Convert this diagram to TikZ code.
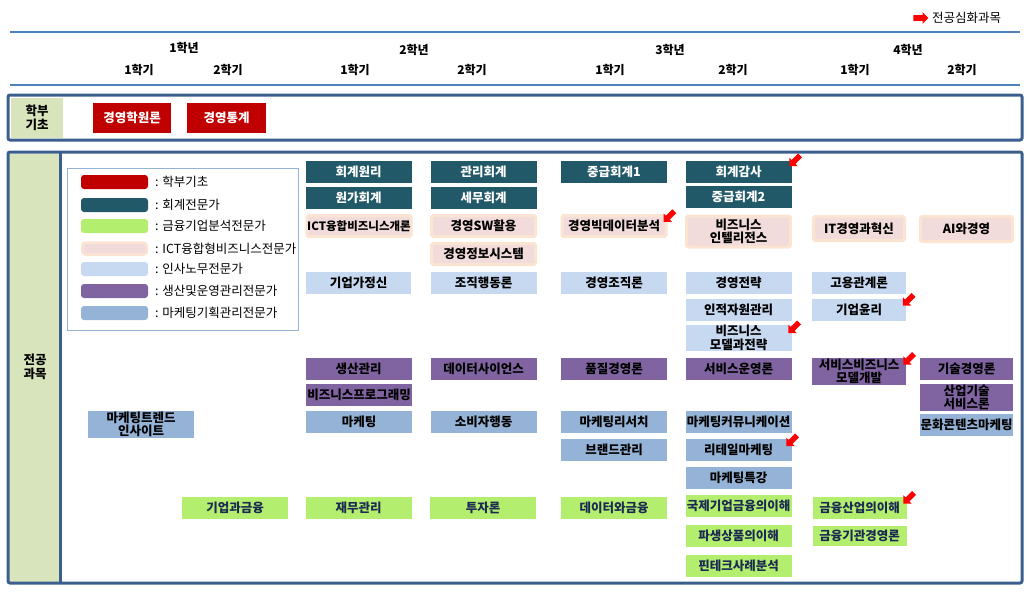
\documentclass[tikz,border=0pt]{standalone}
\usepackage{fontspec}
\setmainfont{Noto Sans CJK KR}
\usepackage{xcolor}
\usepackage{tikz}
\usetikzlibrary{shapes.arrows}

\definecolor{basered}{HTML}{C00000}
\definecolor{acctteal}{HTML}{215968}
\definecolor{fingreen}{HTML}{B3EE6E}
\definecolor{finnavy}{HTML}{1B2A52}
\definecolor{ictpink}{HTML}{F2DCDB}
\definecolor{ictpeach}{HTML}{FCE4D2}
\definecolor{hrblue}{HTML}{C6D9F1}
\definecolor{opspurple}{HTML}{8064A2}
\definecolor{mktblue}{HTML}{95B3D7}
\definecolor{frameblue}{HTML}{3A5F8E}
\definecolor{lineblue}{HTML}{4F81BD}
\definecolor{sidegreen}{HTML}{D8E4BC}
\definecolor{legendline}{HTML}{95B3D7}

\tikzset{
  course/.style={minimum width=106pt, minimum height=22pt, inner sep=0pt,
    align=center, font=\fontsize{12.5}{13.5}\selectfont\bfseries},
  narrow/.style={minimum width=94pt},
  whitetext/.style={text=white},
  base/.style={course, whitetext, fill=basered, minimum height=30pt},
  acct/.style={course, whitetext, fill=acctteal},
  fin/.style={course, fill=fingreen, text=finnavy},
  ict/.style={course, fill=ictpink, draw=ictpeach, line width=3pt,
    rounded corners=1.5pt, minimum width=104pt, minimum height=21pt},
  hr/.style={course, fill=hrblue},
  ops/.style={course, fill=opspurple},
  mkt/.style={course, fill=mktblue},
  swatch/.style={minimum width=67pt, minimum height=14pt, inner sep=0pt,
    rounded corners=3pt},
  legtext/.style={anchor=west, inner sep=0pt, font=\fontsize{12.5}{13}\selectfont},
  head/.style={inner sep=0pt, font=\fontsize{12}{13}\selectfont\bfseries},
  side/.style={inner sep=0pt, align=center, font=\fontsize{12.5}{14}\selectfont\bfseries},
  frame/.style={draw=frameblue, line width=3pt, rounded corners=2pt},
  deep/.style={single arrow, fill=red, inner xsep=0pt, inner ysep=2.6pt,
    minimum height=15pt, single arrow head extend=3pt, rotate=225},
}

\begin{document}
\begin{tikzpicture}[x=1pt, y=-1pt]
  \useasboundingbox (0,0) rectangle (1030,594);

  % header
  \node[deep, rotate=-225] (keyarrow) at (919.5,18) {};
  \node[legtext] (keytext) at (932,18) {전공심화과목};
  \draw[lineblue, line width=2.5pt] (10,32) -- (1020,32);
  \draw[lineblue, line width=2.5pt] (10,85) -- (1020,85);

  \node[head] (y1) at (184,48) {1학년};
  \node[head] (y2) at (414,50) {2학년};
  \node[head] (y3) at (670,50) {3학년};
  \node[head] (y4) at (908,50) {4학년};
  \node[head] (s11) at (139,70) {1학기};
  \node[head] (s12) at (228,70) {2학기};
  \node[head] (s21) at (355,70) {1학기};
  \node[head] (s22) at (472,70) {2학기};
  \node[head] (s31) at (610,70) {1학기};
  \node[head] (s32) at (733,70) {2학기};
  \node[head] (s41) at (855,70) {1학기};
  \node[head] (s42) at (962,70) {2학기};

  % 학부기초
  \fill[sidegreen] (11,98) rectangle (63,138);
  \draw[frame] (8,95) rectangle (1022,140);
  \node[side] (basis) at (37,118) {학부\\기초};
  \node[base, minimum width=78pt] (b1) at (132,118) {경영학원론};
  \node[base, minimum width=79pt] (b2) at (226.5,118) {경영통계};

  % 전공과목
  \fill[sidegreen] (9,154) rectangle (60,582);
  \draw[frame] (8,152) rectangle (1022,583);
  \draw[frameblue, line width=3pt] (60.5,152) -- (60.5,583);
  \node[side] (major) at (35,367) {전공\\과목};

  % legend
  \draw[legendline, line width=0.8pt] (67.5,168) rectangle (298,330);
  \node[swatch, fill=basered] (k1) at (114.5,182) {};
  \node[swatch, fill=acctteal] (k2) at (114.5,205) {};
  \node[swatch, fill=fingreen] (k3) at (114.5,226) {};
  \node[swatch, fill=ictpink, draw=ictpeach, line width=2.5pt,
    minimum width=64.5pt, minimum height=12pt] (k4) at (114.5,248.5) {};
  \node[swatch, fill=hrblue] (k5) at (114.5,269) {};
  \node[swatch, fill=opspurple] (k6) at (114.5,291) {};
  \node[swatch, fill=mktblue] (k7) at (114.5,313) {};
  \node[legtext] (t1) at (155,182) {: 학부기초};
  \node[legtext] (t2) at (155,205) {: 회계전문가};
  \node[legtext] (t3) at (155,226) {: 금융기업분석전문가};
  \node[legtext] (t4) at (155,248.5) {: ICT융합형비즈니스전문가};
  \node[legtext] (t5) at (155,269) {: 인사노무전문가};
  \node[legtext] (t6) at (155,291) {: 생산및운영관리전문가};
  \node[legtext] (t7) at (155,313) {: 마케팅기획관리전문가};

  % 1학년
  \node[mkt, minimum height=27pt] (a1) at (141,424.5) {마케팅트렌드\\인사이트};
  \node[fin] (a2) at (235,508) {기업과금융};

  % 2학년 1학기
  \node[acct] (c1) at (358.5,172) {회계원리};
  \node[acct] (c2) at (358.5,197.5) {원가회계};
  \node[ict, font=\fontsize{11.5}{12}\selectfont\bfseries] (c3) at (359,226) {ICT융합비즈니스개론};
  \node[hr, minimum width=105pt] (c4) at (358.5,282.5) {기업가정신};
  \node[ops] (c5) at (358.5,369) {생산관리};
  \node[ops] (c6) at (359,394.5) {비즈니스프로그래밍};
  \node[mkt] (c7) at (359,422) {마케팅};
  \node[fin] (c8) at (358.5,508) {재무관리};

  % 2학년 2학기
  \node[acct] (d1) at (483.5,172) {관리회계};
  \node[acct] (d2) at (483.5,197.5) {세무회계};
  \node[ict] (d3) at (483.5,226) {경영SW활용};
  \node[ict] (d4) at (483.5,254) {경영정보시스템};
  \node[hr] (d5) at (483.5,282.5) {조직행동론};
  \node[ops] (d6) at (483.5,369) {데이터사이언스};
  \node[mkt] (d7) at (483.5,422) {소비자행동};
  \node[fin] (d8) at (483,507.5) {투자론};

  % 3학년 1학기
  \node[acct] (e1) at (614,172) {중급회계1};
  \node[ict] (e2) at (614,226) {경영빅데이터분석};
  \node[hr] (e3) at (614,282.5) {경영조직론};
  \node[ops] (e4) at (614,369) {품질경영론};
  \node[mkt] (e5) at (614,422) {마케팅리서치};
  \node[mkt] (e6) at (614,450) {브랜드관리};
  \node[fin] (e7) at (614,508) {데이터와금융};

  % 3학년 2학기
  \node[acct] (f1) at (738.5,172) {회계감사};
  \node[acct] (f2) at (738.5,197) {중급회계2};
  \node[ict, minimum height=31pt] (f3) at (738.5,231.5) {비즈니스\\인텔리전스};
  \node[hr] (f4) at (738.5,282.5) {경영전략};
  \node[hr] (f5) at (738.5,309.5) {인적자원관리};
  \node[hr, minimum height=26pt] (f6) at (738.5,338) {비즈니스\\모델과전략};
  \node[ops] (f7) at (738.5,369) {서비스운영론};
  \node[mkt] (f8) at (738.5,422) {마케팅커뮤니케이션};
  \node[mkt] (f9) at (738.5,450) {리테일마케팅};
  \node[mkt] (f10) at (738.5,478) {마케팅특강};
  \node[fin] (f11) at (738.5,506) {국제기업금융의이해};
  \node[fin] (f12) at (738.5,535.5) {파생상품의이해};
  \node[fin] (f13) at (738.5,566) {핀테크사례분석};

  % 4학년 1학기
  \node[ict, narrow, minimum width=91pt, minimum height=24pt] (g1) at (859,228.5) {IT경영과혁신};
  \node[hr, narrow] (g2) at (859,282.5) {고용관계론};
  \node[hr, narrow] (g3) at (859,309.5) {기업윤리};
  \node[ops, narrow, minimum height=27pt] (g4) at (859,371.5) {서비스비즈니스\\모델개발};
  \node[fin, narrow] (g5) at (859.5,508) {금융산업의이해};
  \node[fin, narrow, minimum height=20pt] (g6) at (859.5,536) {금융기관경영론};

  % 4학년 2학기
  \node[ict, narrow, minimum width=92pt, minimum height=25pt] (h1) at (966.5,229) {AI와경영};
  \node[ops, narrow, minimum width=93pt] (h2) at (966.5,369) {기술경영론};
  \node[ops, narrow, minimum width=93pt, minimum height=27pt] (h3) at (966.5,397.5) {산업기술\\서비스론};
  \node[mkt, narrow, minimum width=93pt] (h4) at (966.5,425) {문화콘텐츠마케팅};

  % 전공심화 markers
  \node[deep] (m1) at ([shift={(4,-1)}]f1.north east) {};
  \node[deep] (m2) at ([shift={(2.5,1.5)}]e2.north east) {};
  \node[deep] (m3) at ([shift={(3,2)}]f6.north east) {};
  \node[deep] (m4) at ([shift={(3,1)}]g3.north east) {};
  \node[deep] (m5) at ([shift={(3.5,0.5)}]g4.north east) {};
  \node[deep] (m6) at ([shift={(1,1)}]f9.north east) {};
  \node[deep] (m7) at ([shift={(3,0.5)}]g5.north east) {};
\end{tikzpicture}
\end{document}
